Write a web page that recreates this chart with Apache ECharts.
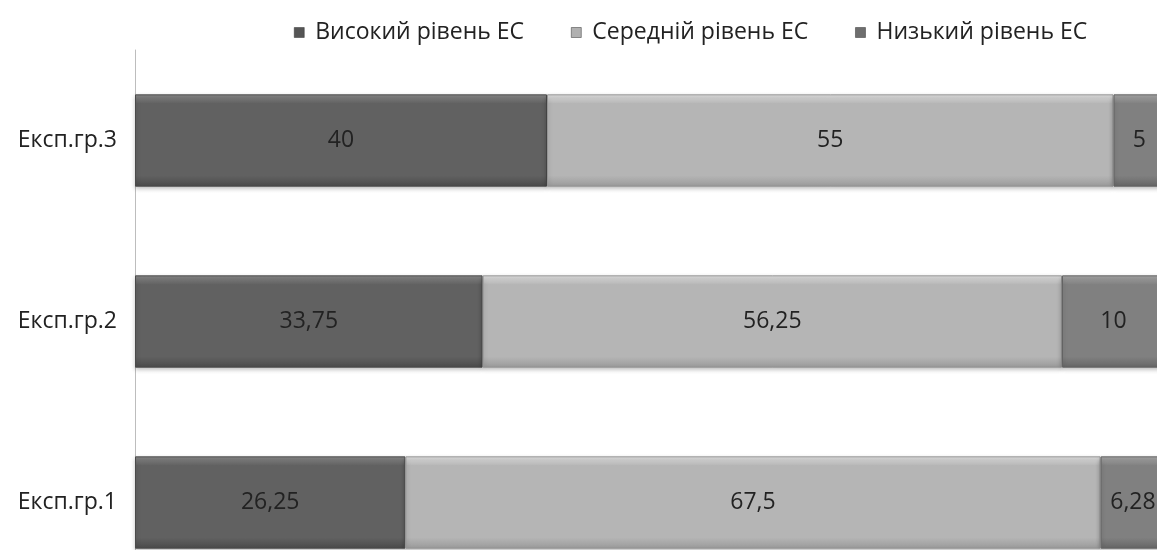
<!DOCTYPE html>
<html>
<head>
<meta charset="utf-8">
<script src="https://cdn.jsdelivr.net/npm/echarts@6/dist/echarts.min.js"></script>
<style>
  html, body { margin: 0; padding: 0; background: #fff; }
  #chart { width: 1157px; height: 550px; }
</style>
</head>
<body>
<div id="chart"></div>
<script>
// Groups, bottom to top
const categories = ['Експ.гр.1', 'Експ.гр.2', 'Експ.гр.3'];
const seriesNames = ['Високий рівень ЕС', 'Середній рівень ЕС', 'Низький рівень ЕС'];
const highLevel = [26.25, 33.75, 40];
const midLevel = [67.5, 56.25, 55];
const lowLevel = [6.28, 10, 5];

const FONT = '"Open Sans", "Noto Sans", sans-serif';
const FONT_SIZE = 23;

// Vertical shading that gives each bar a bevelled look
function bevel(top, base, bottom) {
  return new echarts.graphic.LinearGradient(0, 0, 0, 1, [
    { offset: 0, color: top },
    { offset: 0.1, color: base },
    { offset: 0.88, color: base },
    { offset: 1, color: bottom }
  ]);
}

const palette = [
  { fill: bevel('#8a8a8a', '#616161', '#4a4a4a'), border: '#4a4a4a', icon: '#555' },
  { fill: bevel('#e2e2e2', '#b5b5b5', '#9a9a9a'), border: '#959595', icon: '#b0b0b0' },
  { fill: bevel('#a8a8a8', '#808080', '#666666'), border: '#636363', icon: '#6e6e6e' }
];

const values = [highLevel, midLevel, lowLevel];

const chart = echarts.init(document.getElementById('chart'), null, { renderer: 'canvas' });

chart.setOption({
  animation: false,
  backgroundColor: '#ffffff',
  legend: {
    top: 16,
    left: 289,
    itemWidth: 10,
    itemHeight: 10,
    itemGap: 47,
    icon: 'rect',
    textStyle: { fontFamily: FONT, fontSize: FONT_SIZE, color: '#222', padding: [0, 0, 0, 6] },
    data: seriesNames.map((n, i) => ({ name: n, itemStyle: { color: palette[i].icon, borderColor: '#333', borderWidth: 0.5 } }))
  },
  grid: { left: 135, top: 50, width: 1030, height: 543, outerBoundsMode: 'none', containLabel: false },
  xAxis: {
    type: 'value', min: 0, max: 100, show: false
  },
  yAxis: {
    type: 'category',
    data: categories,
    axisLine: { show: true, lineStyle: { color: '#bdbdbd', width: 1 } },
    axisTick: { show: false },
    axisLabel: { fontFamily: FONT, fontSize: FONT_SIZE, color: '#222', margin: 18 }
  },
  series: seriesNames.map((name, i) => ({
    name,
    type: 'bar',
    stack: 'total',
    barWidth: '51%',
    data: values[i],
    itemStyle: {
      color: palette[i].fill,
      borderColor: palette[i].border,
      borderWidth: 1,
      shadowColor: 'rgba(0,0,0,0.25)',
      shadowBlur: 4,
      shadowOffsetY: 2
    },
    label: {
      show: true,
      position: 'inside',
      fontFamily: FONT,
      fontSize: FONT_SIZE,
      color: '#222',
      formatter: p => String(p.value).replace('.', ',')
    }
  }))
});
</script>
</body>
</html>
